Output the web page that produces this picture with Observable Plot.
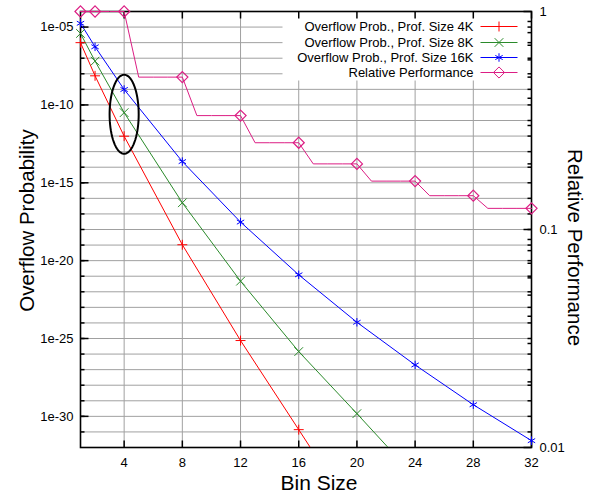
<!DOCTYPE html>
<html><head><meta charset="utf-8">
<script src="https://cdn.jsdelivr.net/npm/d3@7"></script>
<script src="https://cdn.jsdelivr.net/npm/@observablehq/plot@0.6"></script>
<style>body{margin:0;background:#fff}svg{font-family:"Liberation Sans",Arial,sans-serif}</style>
</head><body><div id="chart"></div>
<script>
// ---- data ----
const bins4K = [1, 2, 4, 8, 12, 16, 20];
const prob4K = [1.0e-6, 7.4e-9, 9.8e-13, 1.05e-19, 7.4e-26, 1.4e-31, 2.5e-37];
const bins8K = [1, 2, 4, 8, 12, 16, 20, 24];
const prob8K = [3.9e-6, 6.5e-8, 3.2e-11, 5.2e-17, 4.8e-22, 1.45e-26, 1.5e-30, 1.3e-34];
const bins16K = [1, 2, 4, 8, 12, 16, 20, 24, 28, 32];
const prob16K = [1.75e-5, 5.4e-7, 9.8e-10, 2.3e-14, 3.0e-18, 1.23e-21, 1.1e-24, 2.0e-27, 5.6e-30, 2.75e-32];
const perfBins = [1,2,3,4,5,6,7,8,9,10,11,12,13,14,15,16,17,18,19,20,21,22,23,24,25,26,27,28,29,30,31,32];
const perfValues = [1,1,1,1, 0.5,0.5,0.5,0.5, 0.333,0.333,0.333,0.333, 0.25,0.25,0.25,0.25,
                    0.2,0.2,0.2,0.2, 0.1667,0.1667,0.1667,0.1667, 0.1429,0.1429,0.1429,0.1429, 0.125,0.125,0.125,0.125];
const perfMarkerBins = [1, 2, 4, 8, 12, 16, 20, 24, 28, 32];
const xTicks = [4, 8, 12, 16, 20, 24, 28, 32];
const yMajorTicks = [1e-5, 1e-10, 1e-15, 1e-20, 1e-25, 1e-30];
const yDecades = d3.range(-31, -4).map(e => Math.pow(10, e));
const y2Major = [0.01, 0.1, 1];
const y2Minor = [0.02,0.03,0.04,0.05,0.06,0.07,0.08,0.09,0.2,0.3,0.4,0.5,0.6,0.7,0.8,0.9];
const seriesNames = ["Overflow Prob., Prof. Size 4K", "Overflow Prob., Prof. Size 8K", "Overflow Prob., Prof. Size 16K", "Relative Performance"];
const seriesColors = ["#ff0000", "#2a8a2a", "#0000ff", "#dc1e84"];
// highlight ellipse around bin size 4 (center, radii in data units)
const highlight = {bin: 4, logProb: -10.6, rxBins: 1.0, ryDecades: 2.54};

// ---- helpers ----
const yDomain = [1e-32, 1e-4];
const y2Domain = [0.01, 1];
const decadesL = Math.log10(yDomain[1]) - Math.log10(yDomain[0]);
const decadesR = Math.log10(y2Domain[1]) - Math.log10(y2Domain[0]);
const toLeft = v => Math.pow(10, Math.log10(yDomain[0]) + (Math.log10(v) - Math.log10(y2Domain[0])) * decadesL / decadesR);
const seg = (x1, y1, x2, y2) => ({draw(c) { c.moveTo(x1, y1); c.lineTo(x2, y2); }});
const rectSym = (x, y, w, h) => ({draw(c) { c.rect(x, y, w, h); }});

const zip = (xs, ys) => xs.map((x, i) => ({x, y: ys[i]}));
const s4 = zip(bins4K, prob4K), s8 = zip(bins8K, prob8K), s16 = zip(bins16K, prob16K);
const perf = perfBins.map((x, i) => ({x, y: toLeft(perfValues[i])}));
const perfMarks = perf.filter(d => perfMarkerBins.includes(d.x));
const ell = d3.range(0, 73).map(i => {
  const t = i / 72 * 2 * Math.PI;
  return {x: highlight.bin + highlight.rxBins * Math.cos(t), y: Math.pow(10, highlight.logProb + highlight.ryDecades * Math.sin(t))};
});
const fmtL = d => "1e-" + String(Math.round(-Math.log10(d))).padStart(2, "0");
const symbols = ["plus", "times", "asterisk", "diamond2"];
const symR = [3.3, 4, 4, 5];

const grey = "#a0a0a0";
const legendMarks = [];
const rowDy = [15, 31, 46, 61];
seriesNames.forEach((name, i) => {
  legendMarks.push(Plot.text([name], {frameAnchor: "top-right", dx: -58, dy: rowDy[i], text: d => d, textAnchor: "end", lineAnchor: "middle", fontSize: 13, fill: "black"}));
  legendMarks.push(Plot.dot([0], {frameAnchor: "top-right", dx: -32.5, dy: rowDy[i], symbol: seg(-18.5, 0, 18.5, 0), fill: "none", stroke: seriesColors[i], strokeWidth: 1}));
  legendMarks.push(Plot.dot([0], {frameAnchor: "top-right", dx: -32.5, dy: rowDy[i], symbol: symbols[i], r: symR[i], fill: "none", stroke: seriesColors[i], strokeWidth: 1}));
});

const chart = Plot.plot({
  width: 590, height: 495,
  marginLeft: 80, marginRight: 59, marginTop: 11, marginBottom: 48,
  x: {domain: [1, 32], axis: null},
  y: {type: "log", domain: yDomain, axis: null},
  style: {fontFamily: '"Liberation Sans", Arial, sans-serif', fontSize: "13px", background: "white", color: "black"},
  marks: [
    Plot.ruleX(xTicks.slice(0, -1), {stroke: grey, strokeWidth: 1}),
    Plot.ruleY(yDecades, {stroke: grey, strokeWidth: 1}),
    // legend background
    Plot.dot([0], {frameAnchor: "top-right", symbol: rectSym(-249, 0, 249, 69), fill: "white", stroke: "none"}),
    // ticks
    Plot.dot(xTicks, {x: d => d, frameAnchor: "bottom", symbol: seg(0, 0, 0, -7), fill: "none", stroke: "black"}),
    Plot.dot(xTicks, {x: d => d, frameAnchor: "top", symbol: seg(0, 0, 0, 7), fill: "none", stroke: "black"}),
    Plot.dot(yDecades, {y: d => d, frameAnchor: "left", symbol: seg(0, 0, 4, 0), fill: "none", stroke: "black"}),
    Plot.dot(yMajorTicks, {y: d => d, frameAnchor: "left", symbol: seg(0, 0, 8, 0), fill: "none", stroke: "black"}),
    Plot.dot(yDecades, {y: d => d, frameAnchor: "right", symbol: seg(0, 0, -4, 0), fill: "none", stroke: "black"}),
    Plot.dot(y2Minor, {y: d => toLeft(d), frameAnchor: "right", symbol: seg(0, 0, -4, 0), fill: "none", stroke: "black"}),
    Plot.dot(y2Major, {y: d => toLeft(d), frameAnchor: "right", symbol: seg(0, 0, -8, 0), fill: "none", stroke: "black"}),
    Plot.frame({stroke: "black", strokeWidth: 1.6}),
    // tick labels
    Plot.text(xTicks, {x: d => d, frameAnchor: "bottom", dy: 15.5, text: d => String(d), lineAnchor: "middle", fontSize: 13, fill: "black"}),
    Plot.text(yMajorTicks, {y: d => d, frameAnchor: "left", dx: -7, textAnchor: "end", lineAnchor: "middle", text: fmtL, fontSize: 13, fill: "black"}),
    Plot.text(y2Major, {y: d => toLeft(d), frameAnchor: "right", dx: 8, textAnchor: "start", lineAnchor: "middle", text: d => String(d), fontSize: 13, fill: "black"}),
    // data
    Plot.line(s4, {x: "x", y: "y", stroke: seriesColors[0], strokeWidth: 1, clip: true}),
    Plot.line(s8, {x: "x", y: "y", stroke: seriesColors[1], strokeWidth: 1, clip: true}),
    Plot.line(s16, {x: "x", y: "y", stroke: seriesColors[2], strokeWidth: 1, clip: true}),
    Plot.line(perf, {x: "x", y: "y", stroke: seriesColors[3], strokeWidth: 1}),
    Plot.line(ell, {x: "x", y: "y", stroke: "black", strokeWidth: 2}),
    Plot.dot(s4.filter(d => d.y >= yDomain[0]), {x: "x", y: "y", symbol: symbols[0], r: symR[0], fill: "none", stroke: seriesColors[0], strokeWidth: 1}),
    Plot.dot(s8.filter(d => d.y >= yDomain[0]), {x: "x", y: "y", symbol: symbols[1], r: symR[1], fill: "none", stroke: seriesColors[1], strokeWidth: 1}),
    Plot.dot(s16, {x: "x", y: "y", symbol: symbols[2], r: symR[2], fill: "none", stroke: seriesColors[2], strokeWidth: 1}),
    Plot.dot(perfMarks, {x: "x", y: "y", symbol: symbols[3], r: symR[3], fill: "none", stroke: seriesColors[3], strokeWidth: 1.2}),
    ...legendMarks,
    // axis titles
    Plot.text(["Overflow Probability"], {frameAnchor: "left", dx: -53, dy: -9, rotate: -90, text: d => d, textAnchor: "middle", lineAnchor: "middle", fontSize: 20.5, fill: "black"}),
    Plot.text(["Relative Performance"], {frameAnchor: "right", dx: 43, dy: 18, rotate: 90, text: d => d, textAnchor: "middle", lineAnchor: "middle", fontSize: 20.5, fill: "black"}),
    Plot.text(["Bin Size"], {frameAnchor: "bottom", dy: 35.5, dx: 13, text: d => d, textAnchor: "middle", lineAnchor: "middle", fontSize: 21, fill: "black"})
  ]
});
document.getElementById("chart").appendChild(chart);
</script>
</body></html>
